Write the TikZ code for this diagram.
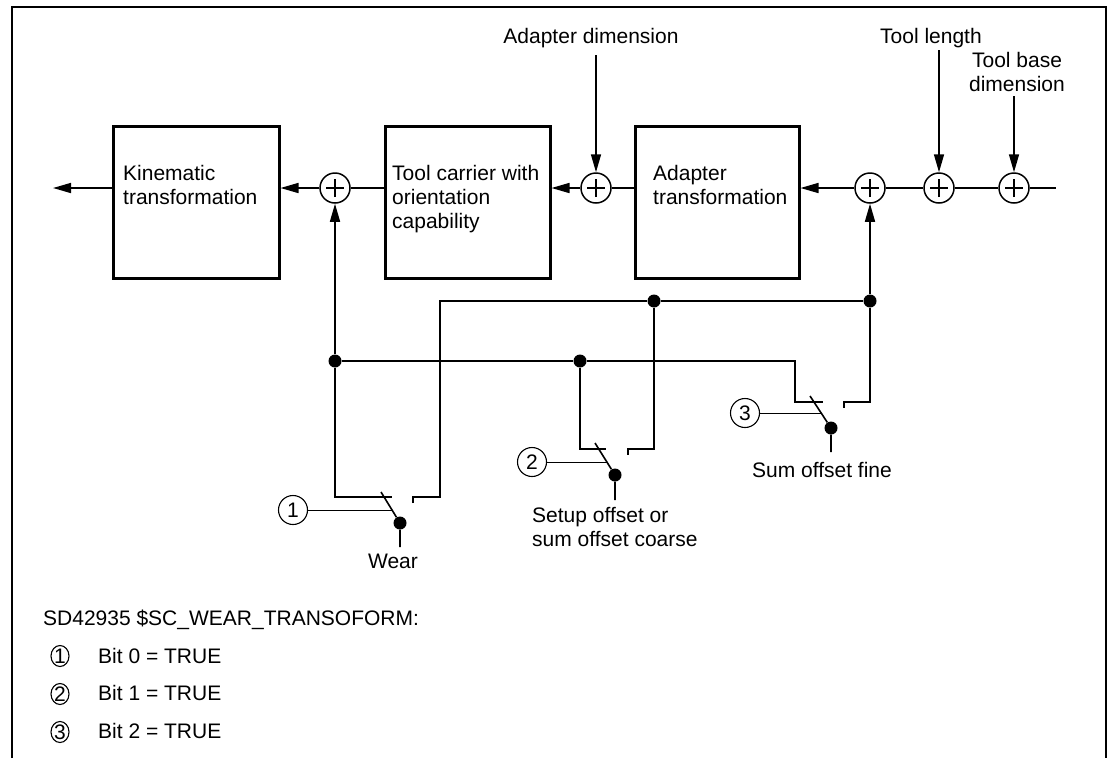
\documentclass[tikz,border=0pt]{standalone}
\usepackage{fontspec}
\setmainfont{Liberation Sans}
\usetikzlibrary{arrows.meta,shapes.geometric}
\begin{document}
\begin{tikzpicture}[x=1pt,y=-1pt,
  font=\fontsize{21}{24}\selectfont,
  ln/.style={line width=1.6pt},
  leader/.style={line width=0.9pt},
  arr/.style={ln,-{Triangle[length=18pt,width=10pt]}},
  blk/.style={draw,line width=2.5pt,minimum height=152pt,anchor=north west,inner sep=0pt},
  txt/.style={inner sep=0pt,align=left,anchor=base west},
  lbl/.style={inner sep=0pt,align=center,anchor=base},
  sum/.style={draw,circle,line width=1.5pt,minimum size=30pt,inner sep=0pt,
    path picture={\draw[line width=1.1pt]
      ([xshift=-9pt]path picture bounding box.center) -- ([xshift=9pt]path picture bounding box.center)
      ([yshift=-9pt]path picture bounding box.center) -- ([yshift=9pt]path picture bounding box.center);}},
  dot/.style={circle,fill,inner sep=0pt,minimum size=13pt},
  num/.style={draw,circle,line width=1.1pt,minimum size=29pt,inner sep=0pt},
  bnum/.style={draw,ellipse,line width=1.1pt,minimum width=18pt,minimum height=21pt,inner sep=0pt}
]
\useasboundingbox (0,0) rectangle (1114,758);
% frame
\draw[line width=1.4pt] (12,758) -- (12,7) -- (1106,7) -- (1106,758);

% blocks
\node[blk,minimum width=166pt] (kin) at (112,125) {};
\node[blk,minimum width=165pt] (tc) at (384,125) {};
\node[blk,minimum width=164pt] (ad) at (634,125) {};
% (base anchor of a multi-line node is the baseline of its last line)
\node[txt] (kint) at (123,204) {Kinematic\\transformation};
\node[txt] (tct) at (392,228) {Tool carrier with\\orientation\\capability};
\node[txt] (adt) at (653,204) {Adapter\\transformation};

% summing points
\node[sum] (s1) at (335,188) {};
\node[sum] (s2) at (596,188) {};
\node[sum] (s3) at (870,188) {};
\node[sum] (s4) at (939,188) {};
\node[sum] (s5) at (1014,188) {};
\coordinate (out) at (53,188);
\coordinate (in) at (1056,188);

% main line
\draw[arr] (kin.west |- s1) -- (out);
\draw[arr] (s1) -- (kin.east |- s1);
\draw[ln] (tc.west |- s1) -- (s1);
\draw[arr] (s2) -- (tc.east |- s2);
\draw[ln] (ad.west |- s2) -- (s2);
\draw[arr] (s3) -- (ad.east |- s3);
\draw[ln] (s3) -- (s4);
\draw[ln] (s4) -- (s5);
\draw[ln] (s5) -- (in);

% top inputs
\node[lbl] (adl) at (591,43) {Adapter dimension};
\node[lbl] (tll) at (931,43) {Tool length};
\node[lbl] (tbl) at (1017,91) {Tool base\\dimension};
\coordinate (adi) at (596,55);
\coordinate (tli) at (939,50);
\coordinate (tbi) at (1014,96);
\draw[arr] (adi) -- (s2);
\draw[arr] (tli) -- (s4);
\draw[arr] (tbi) -- (s5);

% junction dots
\node[dot] (d1) at (335,361) {};
\node[dot] (d2) at (580,361) {};
\node[dot] (d3) at (654,301) {};
\node[dot] (d4) at (870,301) {};
\draw[arr] (d1) -- (s1);
\draw[arr] (d4) -- (s3);

% switch pivots
\node[dot] (c1) at (400,523) {};
\node[dot] (c2) at (615,475) {};
\node[dot] (c3) at (831,428) {};

% wires
\draw[ln] (d1) -- (d2) -- (795,361) -- (795,402) -- (823,402);
\draw[ln] (d2) -- (580,449) -- (606,449);
\draw[ln] (d3) -- (654,449) -- (628,449) -- (628,455);
\draw[ln] (413,503) -- (413,497) -- (440,497) -- (440,301) -- (d3) -- (d4);
\draw[ln] (d4) -- (870,402) -- (844,402) -- (844,408);
\draw[ln] (d1) -- (335,497) -- (392,497);

% switch blades and outputs
\draw[ln] (381,492) -- (c1) -- (400,547);
\draw[ln] (595,443) -- (c2) -- (615,500);
\draw[ln] (810,396) -- (c3) -- (831,452);

% numbered markers
\node[num] (n1) at (293,510) {1};
\node[num] (n2) at (532,462) {2};
\node[num] (n3) at (745,413) {3};
\draw[leader] (n1) -- (392,510);
\draw[leader] (n2) -- (607,462);
\draw[leader] (n3) -- (821,413);

% switch labels
\node[lbl] (wear) at (393,568) {Wear};
\node[txt] (setup) at (532,546) {Setup offset or\\sum offset coarse};
\node[lbl] (fine) at (822,477) {Sum offset fine};

% legend
\node[txt] (sd) at (43,625) {SD42935 \$SC\_WEAR\_TRANSOFORM:};
\node[bnum] (b1) at (60,656) {1};
\node[bnum] (b2) at (60,694) {2};
\node[bnum] (b3) at (60,732) {3};
\node[txt] (t1) at (98,663) {Bit 0 = TRUE};
\node[txt] (t2) at (98,700) {Bit 1 = TRUE};
\node[txt] (t3) at (98,738) {Bit 2 = TRUE};
\end{tikzpicture}
\end{document}
